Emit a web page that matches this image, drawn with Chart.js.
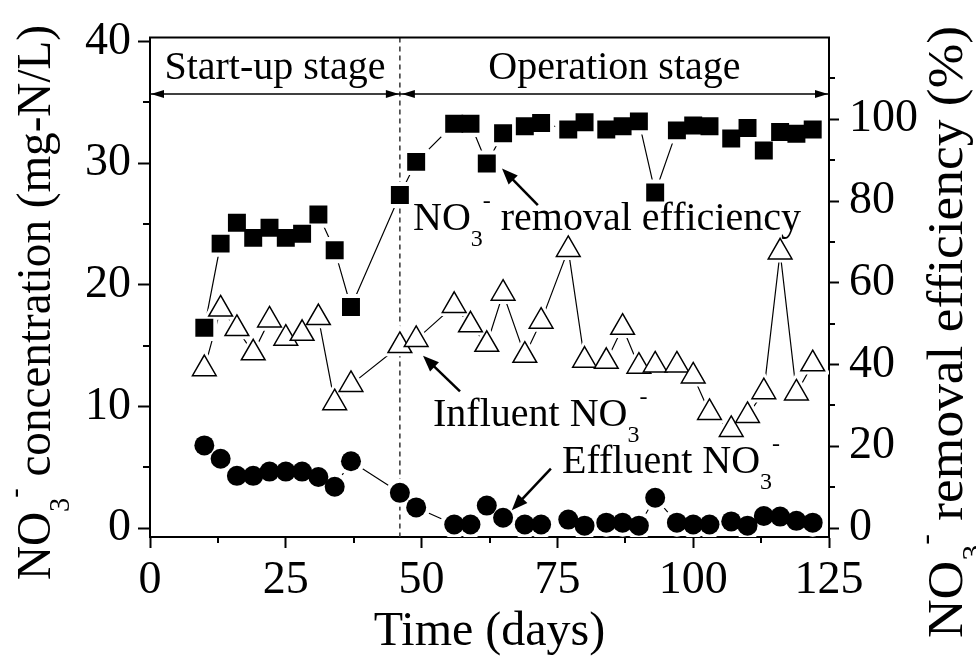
<!DOCTYPE html>
<html><head><meta charset="utf-8">
<script src="https://cdn.jsdelivr.net/npm/chart.js@4.4.0/dist/chart.umd.min.js"></script>
<style>html,body{margin:0;padding:0;background:#fff;}</style>
</head><body>
<canvas id="c" width="976" height="658"></canvas>
<script>
// ---- data ----
const days = [10,13,16,19,22,25,28,31,34,37,46,49,56,59,62,65,69,72,77,80,84,87,90,93,97,100,103,107,110,113,116,119,122];
const influent = [13.1,18.0,16.4,14.4,17.1,15.6,16.0,17.3,10.3,11.8,15.0,15.5,18.3,16.7,15.1,19.3,14.2,17.0,22.9,13.8,13.7,16.5,13.3,13.4,13.4,12.5,9.5,8.1,9.25,11.2,22.7,11.1,13.5];
const effluent = [6.8,5.7,4.3,4.3,4.65,4.65,4.65,4.2,3.4,5.5,2.9,1.7,0.3,0.3,1.85,0.85,0.3,0.3,0.7,0.2,0.45,0.45,0.2,2.5,0.45,0.3,0.3,0.55,0.2,1.0,0.95,0.6,0.45];
const removal = [49.0,69.6,74.7,71.0,73.5,71.0,72.0,76.7,68.0,54.1,81.5,89.6,98.9,98.9,89.2,96.6,98.3,99.1,97.5,99.3,97.5,98.3,99.5,82.1,97.3,98.5,98.3,95.3,97.9,92.4,96.9,96.5,97.5];
const xTicks = [0,25,50,75,100,125];
const xMinor = [12.5,37.5,62.5,87.5,112.5];
const leftTicks = [0,10,20,30,40];
const leftMinor = [5,15,25,35];
const rightTicks = [0,20,40,60,80,100];
const rightMinor = [10,30,50,70,90,110];
const stageBoundary = 46;
const stageNames = ['Start-up stage','Operation stage'];

const FONT = "'Liberation Serif', 'Times New Roman', serif";
Chart.defaults.font.family = FONT;
Chart.defaults.color = '#000';

const pts = arr => arr.map((v,i)=>({x:days[i], y:v}));

function drawRich(ctx, x, y, parts, size, angle, align, targetLen){
  ctx.save();
  ctx.translate(x,y);
  ctx.rotate(angle||0);
  ctx.textBaseline='alphabetic';
  ctx.textAlign='left';
  let w=0;
  parts.forEach(p=>{
    const fs = (p.sub||p.sup)? size*0.6 : size;
    ctx.font = fs+'px '+FONT;
    w += ctx.measureText(p.t).width;
  });
  if (targetLen) ctx.scale(targetLen/w, 1);
  let cx = align==='center' ? -w/2 : 0;
  parts.forEach(p=>{
    const fs = (p.sub||p.sup)? size*0.6 : size;
    ctx.font = fs+'px '+FONT;
    const dy = p.sub ? size*0.4 : (p.sup ? -size*0.55 : 0);
    ctx.fillText(p.t, cx, dy);
    cx += ctx.measureText(p.t).width;
  });
  ctx.restore();
}

function arrow(ctx, x1,y1,x2,y2, head){
  const ang = Math.atan2(y2-y1, x2-x1);
  ctx.save();
  ctx.strokeStyle='#000'; ctx.fillStyle='#000'; ctx.lineWidth=2.5;
  ctx.beginPath(); ctx.moveTo(x1,y1);
  ctx.lineTo(x2 - Math.cos(ang)*head*0.8, y2 - Math.sin(ang)*head*0.8); ctx.stroke();
  ctx.beginPath();
  ctx.moveTo(x2,y2);
  ctx.lineTo(x2 - Math.cos(ang)*head + Math.sin(ang)*head*0.4, y2 - Math.sin(ang)*head - Math.cos(ang)*head*0.4);
  ctx.lineTo(x2 - Math.cos(ang)*head - Math.sin(ang)*head*0.4, y2 - Math.sin(ang)*head + Math.cos(ang)*head*0.4);
  ctx.closePath(); ctx.fill();
  ctx.restore();
}

const overlay = {
  id:'overlay',
  beforeDatasetsDraw(chart){
    const {ctx, chartArea:a, scales:{x}} = chart;
    const bx = x.getPixelForValue(stageBoundary);
    ctx.save(); ctx.strokeStyle='#333'; ctx.lineWidth=1.5; ctx.setLineDash([5,4]);
    ctx.beginPath(); ctx.moveTo(bx,a.top); ctx.lineTo(bx,a.bottom); ctx.stroke(); ctx.restore();
  },
  afterDraw(chart){
    const {ctx, chartArea:a, scales:{x,y,y2}} = chart;
    ctx.save();
    ctx.strokeStyle='#000'; ctx.lineWidth=2;
    ctx.beginPath(); ctx.moveTo(a.left-1,a.top); ctx.lineTo(a.right+1,a.top); ctx.stroke();
    ctx.beginPath();
    xMinor.forEach(v=>{const p=Math.round(x.getPixelForValue(v)); ctx.moveTo(p,a.bottom); ctx.lineTo(p,a.bottom+6);});
    leftMinor.forEach(v=>{const p=Math.round(y.getPixelForValue(v)); ctx.moveTo(a.left,p); ctx.lineTo(a.left-7,p);});
    rightMinor.forEach(v=>{const p=Math.round(y2.getPixelForValue(v)); ctx.moveTo(a.right,p); ctx.lineTo(a.right+6,p);});
    ctx.stroke();
    const bx = x.getPixelForValue(stageBoundary);
    const sy = y.getPixelForValue(35.7);
    const x0 = x.getPixelForValue(0), x1 = x.getPixelForValue(125);
    ctx.lineWidth=1.5;
    ctx.beginPath(); ctx.moveTo(x0,sy); ctx.lineTo(x1,sy); ctx.stroke();
    const head=(tipx, dir)=>{ctx.beginPath(); ctx.moveTo(tipx,sy); ctx.lineTo(tipx-dir*13,sy-4); ctx.lineTo(tipx-dir*13,sy+4); ctx.closePath(); ctx.fill();};
    ctx.fillStyle='#000';
    head(x0+1,-1); head(bx-1,1); head(bx+2,-1); head(x1-1,1);
    ctx.font='40px '+FONT; ctx.textAlign='center'; ctx.textBaseline='alphabetic';
    const by = y.getPixelForValue(36.9);
    ctx.fillText(stageNames[0], (x0+bx)/2, by);
    ctx.fillText(stageNames[1], (bx+x1)/2, by);
    ctx.restore();

    ctx.fillStyle='#000';
    drawRich(ctx, x.getPixelForValue(48.42), y.getPixelForValue(24.52),
      [{t:'NO'},{t:'3',sub:true},{t:'-',sup:true},{t:' removal efficiency'}], 40);
    drawRich(ctx, x.getPixelForValue(52.1), y.getPixelForValue(8.39),
      [{t:'Influent NO'},{t:'3',sub:true},{t:'-',sup:true}], 40);
    drawRich(ctx, x.getPixelForValue(75.85), y.getPixelForValue(4.56),
      [{t:'Effluent NO'},{t:'3',sub:true},{t:'-',sup:true}], 40);
    arrow(ctx, x.getPixelForValue(71.4), y.getPixelForValue(26.56), x.getPixelForValue(64.8), y.getPixelForValue(29.57), 16);
    arrow(ctx, x.getPixelForValue(57.07), y.getPixelForValue(11.24), x.getPixelForValue(50.26), y.getPixelForValue(14.18), 16);
    arrow(ctx, x.getPixelForValue(73.8), y.getPixelForValue(4.89), x.getPixelForValue(66.6), y.getPixelForValue(1.47), 16);

    ctx.save(); ctx.fillStyle='#000'; ctx.font='48px '+FONT; ctx.textAlign='center'; ctx.textBaseline='alphabetic';
    ctx.fillText('Time (days)', (a.left+a.right)/2, 645);
    ctx.restore();
    drawRich(ctx, 50, 302.5, [{t:'NO'},{t:'3',sub:true},{t:'-',sup:true},{t:' concentration (mg-N/L)'}], 48, -Math.PI/2, 'center', 555);
    drawRich(ctx, 962, 332, [{t:'NO'},{t:'3',sub:true},{t:'-',sup:true},{t:' removal efficiency (%)'}], 50, -Math.PI/2, 'center', 612);
  }
};

const tickFont = {family:FONT, size:46};
new Chart(document.getElementById('c'), {
  type:'scatter',
  data:{datasets:[
    {data:pts(influent), yAxisID:'y', showLine:true, borderColor:'#000', borderWidth:1.2, pointRadius:0, order:3},
    {data:pts(effluent), yAxisID:'y', showLine:true, borderColor:'#000', borderWidth:1.2, pointRadius:0, order:3},
    {data:pts(removal), yAxisID:'y2', showLine:true, borderColor:'#000', borderWidth:1.2, pointRadius:0, order:3},
    {data:pts(influent), yAxisID:'y', showLine:false, pointStyle:'triangle', pointRadius:21, pointBackgroundColor:'#fff', pointBorderWidth:0, order:2},
    {data:pts(effluent), yAxisID:'y', showLine:false, pointStyle:'circle', pointRadius:14, pointBackgroundColor:'#fff', pointBorderWidth:0, order:2},
    {data:pts(removal), yAxisID:'y2', showLine:false, pointStyle:'rect', pointRadius:18.5, pointBackgroundColor:'#fff', pointBorderWidth:0, order:2},
    {label:'Influent NO3-', data:pts(influent), yAxisID:'y', showLine:false, pointStyle:'triangle', pointRadius:13.7, pointBackgroundColor:'#fff', pointBorderColor:'#000', pointBorderWidth:1.5, order:1},
    {label:'Effluent NO3-', data:pts(effluent), yAxisID:'y', showLine:false, pointStyle:'circle', pointRadius:10, pointBackgroundColor:'#000', pointBorderColor:'#000', pointBorderWidth:0, order:1},
    {label:'NO3- removal efficiency', data:pts(removal), yAxisID:'y2', showLine:false, pointStyle:'rect', pointRadius:12.7, pointBackgroundColor:'#000', pointBorderColor:'#000', pointBorderWidth:0, order:1}
  ]},
  options:{
    responsive:false, animation:false, devicePixelRatio:1,
    layout:{padding:{top:33,left:0,right:0,bottom:0}},
    plugins:{legend:{display:false}, tooltip:{enabled:false}},
    scales:{
      x:{type:'linear', position:'bottom', min:0, max:125,
         afterBuildTicks:s=>{s.ticks=xTicks.map(v=>({value:v}));},
         afterFit:s=>{s.height=121;},
         grid:{drawOnChartArea:false, tickLength:11, tickWidth:2, tickColor:'#000'},
         border:{color:'#000', width:2},
         ticks:{font:tickFont, color:'#000', padding:5, maxRotation:0, autoSkip:false}},
      y:{type:'linear', position:'left', min:-0.73, max:40.33,
         afterBuildTicks:s=>{s.ticks=leftTicks.map(v=>({value:v}));},
         afterFit:s=>{s.width=150;},
         grid:{drawOnChartArea:false, tickLength:12, tickWidth:2, tickColor:'#000'},
         border:{color:'#000', width:2},
         ticks:{font:tickFont, color:'#000', padding:7, autoSkip:false}},
      y2:{type:'linear', position:'right', min:-2.18, max:120,
         afterBuildTicks:s=>{s.ticks=rightTicks.map(v=>({value:v}));},
         afterFit:s=>{s.width=147;},
         grid:{drawOnChartArea:false, tickLength:10, tickWidth:2, tickColor:'#000'},
         border:{color:'#000', width:2},
         ticks:{font:tickFont, color:'#000', padding:10, autoSkip:false}}
    }
  },
  plugins:[overlay]
});
</script>
</body></html>
